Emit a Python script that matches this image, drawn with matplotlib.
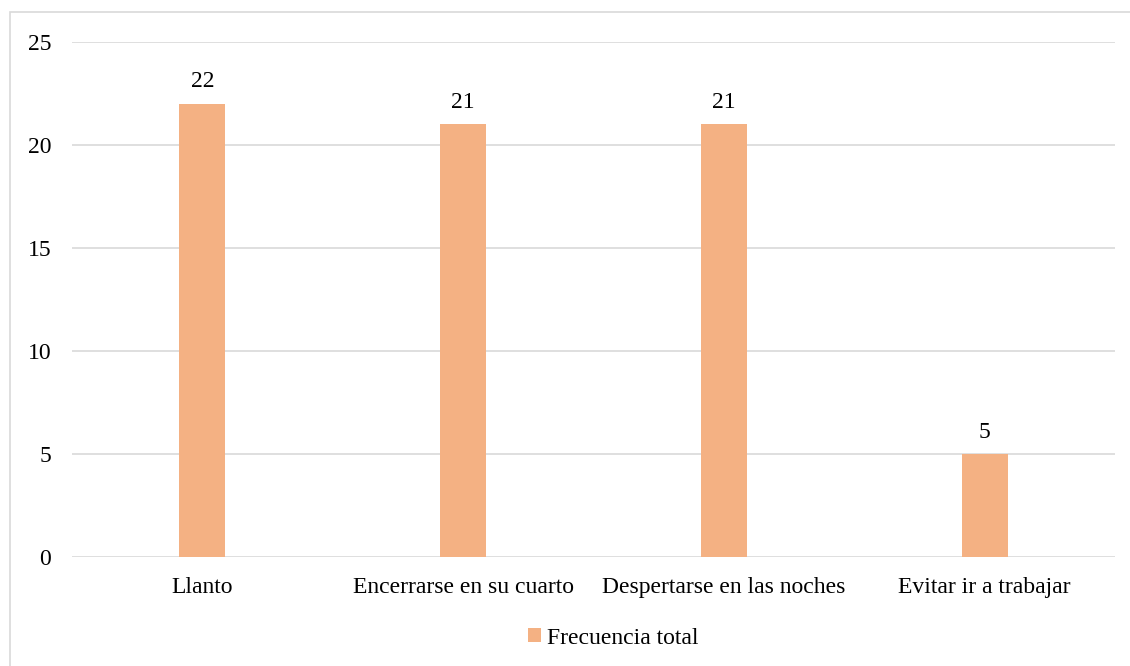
import matplotlib.pyplot as plt
from matplotlib.patches import Rectangle

categorias = ["Llanto", "Encerrarse en su cuarto", "Despertarse en las noches", "Evitar ir a trabajar"]
frecuencia = [22, 21, 21, 5]
serie = "Frecuencia total"
ticks_y = [0, 5, 10, 15, 20, 25]

plt.rcParams['font.family'] = ['Liberation Serif', 'DejaVu Serif']

fig = plt.figure(figsize=(11.3, 6.66), dpi=100)
ax = fig.add_axes([0.0637, 0.1637, 0.9230, 0.7732])

# light grey frame around the whole chart
fig.patches.append(Rectangle((10 / 1130, -0.01), 1.1, 1 - 12 / 666 + 0.01,
                             transform=fig.transFigure, fill=False,
                             edgecolor="#D9D9D9", linewidth=1.2))

x = range(len(categorias))
barras = ax.bar(x, frecuencia, width=0.176, color="#F4B183", label=serie, zorder=3)
for b, v in zip(barras, frecuencia):
    ax.text(b.get_x() + b.get_width() / 2, v + 0.55, str(v),
            ha="center", va="bottom", fontsize=17)

ax.set_xlim(-0.5, len(categorias) - 0.5)
ax.set_ylim(0, 25)
ax.set_yticks(ticks_y)
ax.set_xticks(list(x))
ax.set_xticklabels(categorias)
ax.tick_params(axis="both", length=0, labelsize=17)
ax.tick_params(axis="y", pad=15)
ax.tick_params(axis="x", pad=14.5)
ax.grid(axis="y", color="#D9D9D9", linewidth=1.2, zorder=0)
for s in ax.spines.values():
    s.set_visible(False)

fig.legend(loc="center", bbox_to_anchor=(0.5425, 1 - 638 / 666), frameon=False,
           fontsize=17, handlelength=0.55, handleheight=0.55, handletextpad=0.25)

fig.savefig("out.png")
